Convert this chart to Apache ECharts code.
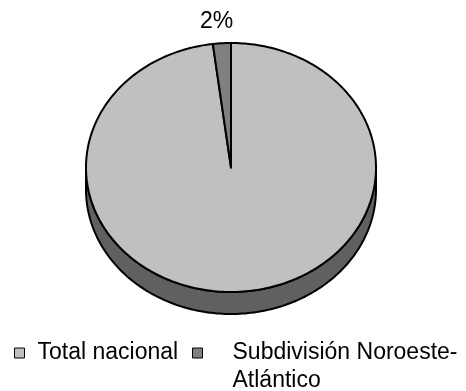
<!DOCTYPE html>
<html>
<head>
<meta charset="utf-8">
<script src="https://cdn.jsdelivr.net/npm/echarts@6/dist/echarts.min.js"></script>
<style>
  html, body { margin: 0; padding: 0; background: #fff; }
  #chart { width: 466px; height: 391px; }
</style>
</head>
<body>
<div id="chart"></div>
<script>
// Share of the catch by area (percent of the total)
const categories = ['Total nacional', 'Subdivisión Noroeste-Atlántico'];
const values = [98, 2];
const showPercent = [false, true];
const topColors = ['#c0c0c0', '#808080'];
const sideColors = ['#606060', '#404040'];

const FONT = '"Liberation Sans", Arial, sans-serif';

// Ellipse geometry of the tilted pie
const CX = 231, CY = 167.5, RX = 145, RY = 124.5, DEPTH = 22;

const total = values.reduce((s, v) => s + v, 0);
const starts = [];
values.reduce((acc, v, i) => { starts[i] = acc; return acc + v; }, 0);

// angle measured clockwise from 12 o'clock
function pt(theta, dy) {
  return [CX + RX * Math.sin(theta), CY - RY * Math.cos(theta) + (dy || 0)];
}
function arc(a, b, dy) {
  const pts = [];
  const n = Math.max(2, Math.ceil((b - a) / 0.02));
  for (let k = 0; k <= n; k++) pts.push(pt(a + (b - a) * k / n, dy));
  return pts;
}

function makeRender(idx) {
  return function (params, api) {
    const start = api.value(0), val = api.value(1);
    const a = start / total * Math.PI * 2;
    const b = (start + val) / total * Math.PI * 2;
    const children = [];

    // visible front wall (lower half of the ellipse)
    const lo = Math.max(a, Math.PI / 2), hi = Math.min(b, Math.PI * 1.5);
    if (lo < hi) {
      const pts = arc(lo, hi, 0).concat(arc(lo, hi, DEPTH).reverse());
      children.push({
        type: 'polygon', z2: 0,
        shape: { points: pts },
        style: { fill: sideColors[idx], stroke: '#000', lineWidth: 2, lineJoin: 'round' }
      });
    }

    // top face
    children.push({
      type: 'polygon', z2: 10,
      shape: { points: [[CX, CY]].concat(arc(a, b, 0)) },
      style: { fill: topColors[idx], stroke: '#000', lineWidth: 2, lineJoin: 'round' }
    });

    if (showPercent[idx]) {
      const mid = (a + b) / 2, d = 22;
      children.push({
        type: 'text', z2: 20,
        x: CX + (RX + d) * Math.sin(mid) - 4,
        y: CY - (RY + d) * Math.cos(mid),
        style: {
          text: Math.round(val / total * 100) + '%',
          font: '23px ' + FONT, fill: '#000',
          align: 'center', verticalAlign: 'middle'
        }
      });
    }
    return { type: 'group', children: children };
  };
}

const series = categories.map((name, i) => ({
  type: 'custom',
  name: name,
  coordinateSystem: 'none',
  silent: true,
  animation: false,
  itemStyle: { color: topColors[i], borderColor: '#000', borderWidth: 1 },
  data: [[starts[i], values[i]]],
  renderItem: makeRender(i)
}));

const legendBase = {
  orient: 'horizontal', padding: 0, selectedMode: false,
  icon: 'rect', itemWidth: 10, itemHeight: 10,
  itemStyle: { borderColor: '#000', borderWidth: 1 }
};

const chart = echarts.init(document.getElementById('chart'), null, { renderer: 'canvas' });
chart.setOption({
  backgroundColor: '#ffffff',
  animation: false,
  legend: [
    Object.assign({}, legendBase, {
      left: 14, top: 339,
      data: [categories[0]],
      textStyle: { fontFamily: FONT, fontSize: 23, color: '#000', lineHeight: 28, padding: [0, 0, 0, 8] }
    }),
    Object.assign({}, legendBase, {
      left: 192, top: 311,
      data: [categories[1]],
      // blank first line keeps the wrapped name's first line level with its swatch
      formatter: () => ' \nSubdivisión Noroeste-\nAtlántico',
      textStyle: { fontFamily: FONT, fontSize: 23, color: '#000', lineHeight: 28, padding: [0, 0, 0, 25] }
    })
  ],
  series: series
});
</script>
</body>
</html>
